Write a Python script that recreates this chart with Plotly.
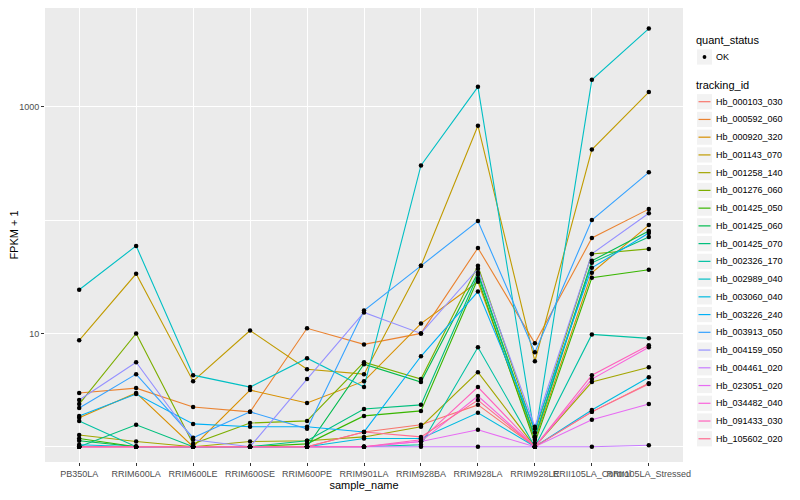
import plotly.graph_objects as go

samples = ["PB350LA", "RRIM600LA", "RRIM600LE", "RRIM600SE", "RRIM600PE", "RRIM901LA",
           "RRIM928BA", "RRIM928LA", "RRIM928LE", "RRII105LA_Control", "RRII105LA_Stressed"]

# FPKM + 1 per sample for each tracking_id
Hb_000103_030 = [1, 1, 1, 1, 1, 1.35, 1.56, 2.34, 1, 2.03, 3.64]
Hb_000592_060 = [2.98, 3.29, 2.24, 2.03, 11.1, 8.0, 10.0, 56.8, 8.17, 69.5, 125]
Hb_000920_320 = [1.80, 2.98, 1.0, 3.16, 2.43, 3.79, 12.2, 28.6, 1.15, 34.3, 90.4]
Hb_001143_070 = [8.68, 33.6, 3.79, 10.6, 4.83, 4.37, 39.5, 681, 5.68, 420, 1350]
Hb_001258_140 = [1.27, 1.11, 1, 1.11, 1.13, 1.22, 1.50, 4.55, 1, 3.72, 5.03]
Hb_001276_060 = [2.38, 10.0, 1.06, 1.62, 1.69, 5.57, 3.95, 39.5, 1.33, 50.3, 55.7]
Hb_001425_050 = [1.18, 1, 1, 1, 1.06, 1.87, 2.07, 30.4, 1.08, 31.0, 36.4]
Hb_001425_060 = [1.13, 1, 1, 1, 1, 5.35, 3.72, 34.3, 1.22, 43.7, 80.1]
Hb_001425_070 = [1, 1.56, 1, 1, 1.13, 2.15, 2.34, 32.9, 1.20, 42.0, 71.0]
Hb_002326_170 = [1.69, 1, 1, 1, 1, 1, 1.04, 7.54, 1, 9.8, 9.04]
Hb_002989_040 = [24.3, 59.2, 4.28, 3.36, 6.04, 3.36, 304, 1500, 1.22, 1730, 4900]
Hb_003060_040 = [1.04, 1, 1, 1, 1, 1.18, 1.18, 1.99, 1, 2.11, 4.11]
Hb_003226_240 = [1.87, 2.92, 1.59, 1.50, 1.50, 1.35, 6.28, 23.4, 1.44, 37.9, 76.9]
Hb_003913_050 = [2.20, 4.37, 1.20, 2.03, 1.44, 15.9, 39.5, 98, 6.81, 100, 264]
Hb_004159_050 = [2.58, 5.57, 1.15, 1, 3.95, 15.3, 10.0, 37.2, 1.50, 50.3, 115]
Hb_004461_020 = [1, 1, 1, 1, 1, 1, 1, 1, 1, 1, 1.03]
Hb_023051_020 = [1, 1, 1, 1, 1, 1, 1.11, 1.41, 1, 1.73, 2.38]
Hb_034482_040 = [1, 1, 1, 1, 1, 1, 1.11, 2.80, 1, 3.95, 7.54]
Hb_091433_030 = [1, 1, 1, 1, 1, 1, 1.15, 3.36, 1, 4.28, 7.85]
Hb_105602_020 = [1, 1, 1, 1, 1, 1.35, 1.22, 2.58, 1, 2.03, 3.57]

tracking_ids = ["Hb_000103_030", "Hb_000592_060", "Hb_000920_320", "Hb_001143_070",
                "Hb_001258_140", "Hb_001276_060", "Hb_001425_050", "Hb_001425_060",
                "Hb_001425_070", "Hb_002326_170", "Hb_002989_040", "Hb_003060_040",
                "Hb_003226_240", "Hb_003913_050", "Hb_004159_050", "Hb_004461_020",
                "Hb_023051_020", "Hb_034482_040", "Hb_091433_030", "Hb_105602_020"]
series = [Hb_000103_030, Hb_000592_060, Hb_000920_320, Hb_001143_070, Hb_001258_140,
          Hb_001276_060, Hb_001425_050, Hb_001425_060, Hb_001425_070, Hb_002326_170,
          Hb_002989_040, Hb_003060_040, Hb_003226_240, Hb_003913_050, Hb_004159_050,
          Hb_004461_020, Hb_023051_020, Hb_034482_040, Hb_091433_030, Hb_105602_020]
colors = ["#F8766D", "#EA8331", "#D89000", "#C09B00", "#A3A500", "#7CAE00", "#39B600",
          "#00BB4E", "#00BF7D", "#00C1A3", "#00BFC4", "#00BAE0", "#00B0F6", "#35A2FF",
          "#9590FF", "#C77CFF", "#E76BF3", "#FA62DB", "#FF62BC", "#FF6C91"]
status_labels = ["OK"]

FONT = "Liberation Sans, Arial, Helvetica, sans-serif"

# page geometry (the page renders the figure with an 8px body offset)
PANEL_L, PANEL_R, PANEL_T, PANEL_B = 45, 683, 8, 462


def px2x(p):
    return (p - PANEL_L) / (PANEL_R - PANEL_L)


def py2y(p):
    return (PANEL_B - p) / (PANEL_B - PANEL_T)


fig = go.Figure()

for tid, vals, col in zip(tracking_ids, series, colors):
    fig.add_trace(go.Scatter(
        x=samples, y=vals, mode="lines", name=tid,
        line=dict(color=col, width=1.1), hoverinfo="skip", showlegend=False))

px_, py_ = [], []
for vals in series:
    px_.extend(samples)
    py_.extend(vals)
fig.add_trace(go.Scatter(
    x=px_, y=py_, mode="markers", name="OK",
    marker=dict(color="black", size=4.5, symbol="circle"), showlegend=False))

# ---- manual ggplot-style legend ----
shapes, annos = [], []
KEY_L, KEY_R, LABEL_X, TITLE_X = 697, 712, 716, 696


def add_key_box(cy):
    shapes.append(dict(type="rect", xref="paper", yref="paper",
                       x0=px2x(KEY_L), x1=px2x(KEY_R), y0=py2y(cy + 7.6), y1=py2y(cy - 7.6),
                       fillcolor="#F2F2F2", line=dict(width=0), layer="above"))


def add_label(text, x, cy, size, color):
    annos.append(dict(text=text, xref="paper", yref="paper", x=px2x(x), y=py2y(cy),
                      xanchor="left", yanchor="middle", showarrow=False,
                      font=dict(size=size, color=color, family=FONT)))


add_label("quant_status", TITLE_X - 2, 40.5, 11, "black")
for k, lab in enumerate(status_labels):
    cy = 57 + k * 17.74
    add_key_box(cy)
    shapes.append(dict(type="circle", xref="paper", yref="paper",
                       x0=px2x(702.6), x1=px2x(706.4), y0=py2y(cy + 1.9), y1=py2y(cy - 1.9),
                       fillcolor="black", line=dict(width=0), layer="above"))
    add_label(lab, LABEL_X - 2, cy, 9, "black")

add_label("tracking_id", TITLE_X - 2, 84.5, 11, "black")
for k, (tid, col) in enumerate(zip(tracking_ids, colors)):
    cy = 101.7 + k * 17.74
    add_key_box(cy)
    shapes.append(dict(type="line", xref="paper", yref="paper",
                       x0=px2x(KEY_L + 1.5), x1=px2x(KEY_R - 1.5), y0=py2y(cy), y1=py2y(cy),
                       line=dict(color=col, width=1.2), layer="above"))
    add_label(tid, LABEL_X - 2, cy, 9, "black")

fig.update_layout(
    width=792, height=492,
    margin=dict(l=37, r=117, t=0, b=38, autoexpand=False),
    paper_bgcolor="white", plot_bgcolor="#EBEBEB",
    font=dict(family=FONT, size=9, color="#4D4D4D"),
    showlegend=False,
    shapes=shapes, annotations=annos,
    xaxis=dict(type="category", categoryorder="array", categoryarray=samples,
               range=[-0.6, 10.6], showgrid=True, gridcolor="white", gridwidth=1.1,
               zeroline=False, showline=False, ticks="outside", ticklen=3,
               tickcolor="#333333", tickwidth=1, tickangle=0,
               tickfont=dict(size=9, color="#4D4D4D"),
               title=dict(text="sample_name", font=dict(size=11, color="black"), standoff=3)),
    yaxis=dict(type="log", range=[-0.135, 3.872], tickvals=[10, 1000], ticktext=["10", "1000"],
               showgrid=True, gridcolor="white", gridwidth=1.1, zeroline=False, showline=False,
               ticks="outside", ticklen=3, tickcolor="#333333", tickwidth=1,
               tickfont=dict(size=9, color="#4D4D4D"),
               minor=dict(tickvals=[1, 100], showgrid=True, gridcolor="white", gridwidth=0.5, ticks=""),
               title=dict(text="FPKM + 1", font=dict(size=11, color="black"), standoff=2)),
)

fig.write_html("out.html")
